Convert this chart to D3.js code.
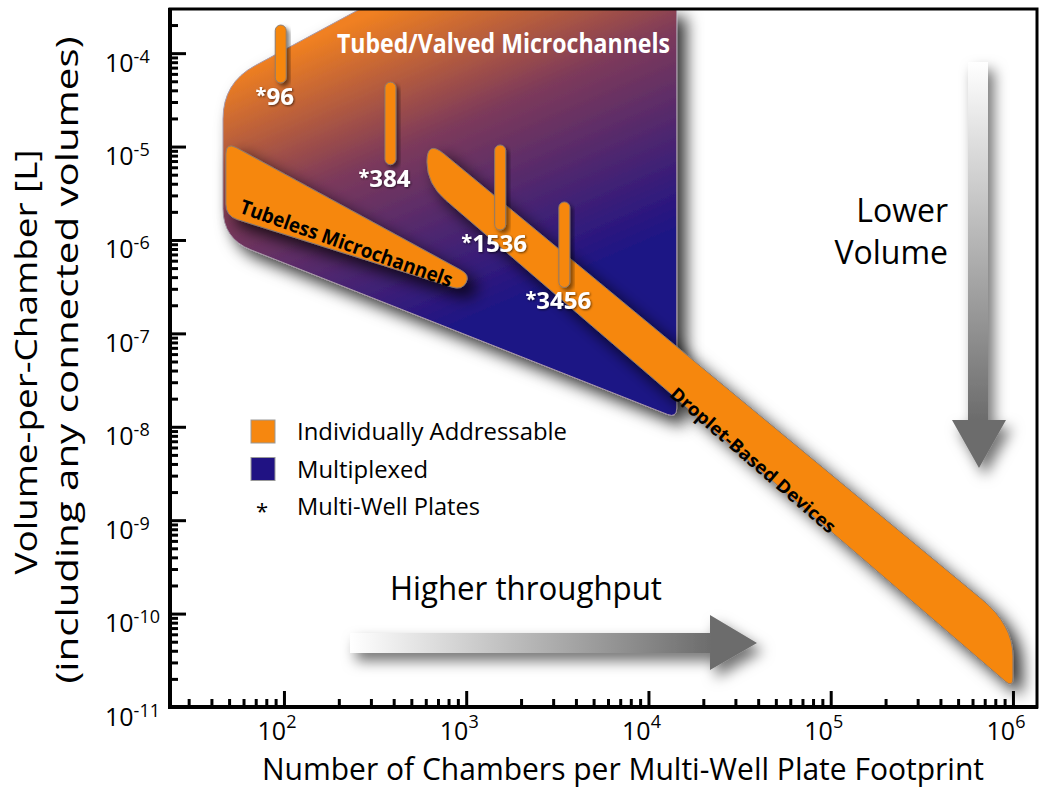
<!DOCTYPE html>
<html>
<head>
<meta charset="utf-8">
<script src="https://cdn.jsdelivr.net/npm/d3@7"></script>
<style>
  body { margin: 0; background: #fff; }
  svg { display: block; }
  text { font-family: "Open Sans", "Noto Sans", sans-serif; }
</style>
</head>
<body>
<svg width="1050" height="792"></svg>
<script>
// tick values
const xTicks = [1e2, 1e3, 1e4, 1e5, 1e6];
const yTicks = [1e-11, 1e-10, 1e-9, 1e-8, 1e-7, 1e-6, 1e-5, 1e-4];

// region outlines (chambers per footprint, litres per chamber)
const multiplexedX = [46.3, 264, 14300, 14300, 46.3];
const multiplexedY = [4.8e-5, 3.0e-4, 3.0e-4, 1.24e-8, 1.03e-6];
const tubelessX = [48, 1050, 948, 48];
const tubelessY = [1.12e-5, 4.2e-7, 2.9e-7, 1.81e-6];
const dropletX = [609, 1e6, 1e6, 609];
const dropletY = [1.18e-5, 7.55e-11, 1.6e-11, 3.98e-6];

// multi-well plates
const plateWells = [96, 384, 1536, 3456];
const plateVolMax = [2.0e-4, 4.9e-5, 1.04e-5, 2.55e-6];
const plateVolMin = [4.8e-5, 6.4e-6, 1.28e-6, 3.1e-7];

const legendLabels = ["Individually Addressable", "Multiplexed", "Multi-Well Plates"];

const svg = d3.select("svg");
const x = d3.scaleLog().domain([23.7, 1.355e6]).range([170, 1037]);
const y = d3.scaleLog().domain([1e-11, 2.97e-4]).range([707, 9]);
const ORANGE = "#f6870f";

// polygon with rounded corners (quadratic), radii per vertex
function roundedPath(pts, radii) {
  const n = pts.length;
  let d = "";
  for (let i = 0; i < n; i++) {
    const p0 = pts[(i - 1 + n) % n], p1 = pts[i], p2 = pts[(i + 1) % n];
    const v1 = [p0[0] - p1[0], p0[1] - p1[1]], v2 = [p2[0] - p1[0], p2[1] - p1[1]];
    const l1 = Math.hypot(v1[0], v1[1]), l2 = Math.hypot(v2[0], v2[1]);
    const r1 = Math.min(radii[i], l1 / 2), r2 = Math.min(radii[i], l2 / 2);
    const a = [p1[0] + v1[0] / l1 * r1, p1[1] + v1[1] / l1 * r1];
    const b = [p1[0] + v2[0] / l2 * r2, p1[1] + v2[1] / l2 * r2];
    d += (i === 0 ? "M" : "L") + a + "Q" + p1 + " " + b;
  }
  return d + "Z";
}
const toPts = (xs, ys) => xs.map((v, i) => [x(v), y(ys[i])]);

const defs = svg.append("defs");
const grad = defs.append("linearGradient").attr("id", "multiplexFill")
  .attr("gradientUnits", "userSpaceOnUse")
  .attr("x1", 240).attr("y1", 70).attr("x2", 367).attr("y2", 365);
grad.append("stop").attr("offset", 0).attr("stop-color", "#f08020");
grad.append("stop").attr("offset", 0.42).attr("stop-color", "#7d3a5a");
grad.append("stop").attr("offset", 1).attr("stop-color", "#1d1285");

const hGrad = defs.append("linearGradient").attr("id", "hArrow")
  .attr("gradientUnits", "userSpaceOnUse")
  .attr("x1", 350).attr("y1", 0).attr("x2", 712).attr("y2", 0);
hGrad.append("stop").attr("offset", 0).attr("stop-color", "#ffffff");
hGrad.append("stop").attr("offset", 1).attr("stop-color", "#6c6c6c");
const vGrad = defs.append("linearGradient").attr("id", "vArrow")
  .attr("gradientUnits", "userSpaceOnUse")
  .attr("x1", 0).attr("y1", 62).attr("x2", 0).attr("y2", 420);
vGrad.append("stop").attr("offset", 0).attr("stop-color", "#ffffff");
vGrad.append("stop").attr("offset", 1).attr("stop-color", "#6c6c6c");

function shadow(id, dx, dy, sd, op) {
  defs.append("filter").attr("id", id)
    .attr("x", "-30%").attr("y", "-30%").attr("width", "170%").attr("height", "170%")
    .append("feDropShadow").attr("dx", dx).attr("dy", dy).attr("stdDeviation", sd)
    .attr("flood-color", "#000").attr("flood-opacity", op);
}
shadow("shadow", 9, 9, 8, 0.8);
shadow("shadowArrow", 6, 8, 7, 0.55);
shadow("shadowSm", 3, 3, 2, 0.5);
shadow("textShadow", 1, 1, 1, 0.6);

defs.append("clipPath").attr("id", "plot")
  .append("rect").attr("x", 170).attr("y", 9).attr("width", 867).attr("height", 698);

const shapes = svg.append("g").attr("clip-path", "url(#plot)");

shapes.append("path")
  .attr("d", roundedPath(toPts(multiplexedX, multiplexedY), [36, 0, 0, 10, 30]))
  .attr("fill", "url(#multiplexFill)").attr("stroke", "#a898a8").attr("stroke-width", 1)
  .attr("filter", "url(#shadow)");

shapes.append("path")
  .attr("d", roundedPath(toPts(tubelessX, tubelessY), [12, 10, 10, 12]))
  .attr("fill", ORANGE).attr("stroke", "#8a7b70").attr("stroke-width", 1)
  .attr("filter", "url(#shadow)");

shapes.append("path")
  .attr("d", roundedPath(toPts(dropletX, dropletY), [22, 40, 10, 25]))
  .attr("fill", ORANGE).attr("stroke", "#8a7b70").attr("stroke-width", 1)
  .attr("filter", "url(#shadow)");

shapes.selectAll("rect.plate")
  .data(plateWells).enter()
  .append("rect").attr("class", "plate")
  .attr("x", d => x(d) - 5.5).attr("width", 11)
  .attr("y", (d, i) => y(plateVolMax[i]))
  .attr("height", (d, i) => y(plateVolMin[i]) - y(plateVolMax[i]))
  .attr("rx", 5.5)
  .attr("fill", ORANGE).attr("stroke", "#8a7b70").attr("stroke-width", 1)
  .attr("filter", "url(#shadowSm)");

const plateText = shapes.selectAll("text.plate")
  .data(plateWells).enter()
  .append("text").attr("class", "plate")
  .attr("x", d => x(d) - 6)
  .attr("y", (d, i) => y(plateVolMin[i]) + 22)
  .attr("text-anchor", "middle")
  .attr("font-size", 24).attr("font-weight", 700).attr("fill", "#fff")
  .attr("filter", "url(#textShadow)");
plateText.append("tspan").attr("font-size", 20).attr("dy", -3).text("*");
plateText.append("tspan").attr("dy", 3).text(d => d);

shapes.append("text")
  .attr("x", 337).attr("y", 53)
  .attr("font-size", 26).attr("font-weight", 700).attr("fill", "#fff")
  .attr("textLength", 333).attr("lengthAdjust", "spacingAndGlyphs")
  .text("Tubed/Valved Microchannels");

shapes.append("text")
  .attr("transform", "translate(344,250) rotate(19.5)")
  .attr("text-anchor", "middle")
  .attr("font-size", 20).attr("font-weight", 700).attr("fill", "#000")
  .attr("textLength", 224).attr("lengthAdjust", "spacingAndGlyphs")
  .text("Tubeless Microchannels");

shapes.append("text")
  .attr("transform", "translate(749,465) rotate(40.8)")
  .attr("text-anchor", "middle")
  .attr("font-size", 18).attr("font-weight", 700).attr("fill", "#000")
  .attr("textLength", 212).attr("lengthAdjust", "spacingAndGlyphs")
  .text("Droplet-Based Devices");

// arrows
svg.append("path")
  .attr("d", "M350,633L710,633L710,615L757,643L710,670L710,653L350,653Z")
  .attr("fill", "url(#hArrow)").attr("filter", "url(#shadowArrow)");
svg.append("path")
  .attr("d", "M968,62L988,62L988,420L1006,420L979,468L952,420L968,420Z")
  .attr("fill", "url(#vArrow)").attr("filter", "url(#shadowArrow)");

svg.append("text").attr("x", 390).attr("y", 600)
  .attr("font-size", 32).attr("textLength", 272).attr("lengthAdjust", "spacingAndGlyphs")
  .text("Higher throughput");
svg.append("text").attr("x", 948).attr("y", 222).attr("text-anchor", "end")
  .attr("font-size", 32).text("Lower");
svg.append("text").attr("x", 948).attr("y", 264).attr("text-anchor", "end")
  .attr("font-size", 32).text("Volume");

// legend
const legend = svg.append("g");
const legendLen = [270, 131, 183];
const legendFill = [ORANGE, "#201283"];
legendLabels.forEach((lab, i) => {
  const yy = 440 + i * 37.5;
  if (i < 2) {
    legend.append("rect").attr("x", 251).attr("y", yy - 20).attr("width", 24).attr("height", 23)
      .attr("fill", legendFill[i]).attr("stroke", "#999").attr("stroke-width", 1);
  } else {
    legend.append("text").attr("x", 262).attr("y", yy + 4).attr("text-anchor", "middle")
      .attr("font-size", 22).text("*");
  }
  legend.append("text").attr("x", 297).attr("y", yy)
    .attr("font-size", 24).attr("textLength", legendLen[i]).attr("lengthAdjust", "spacingAndGlyphs")
    .text(lab);
});

// axes
function minors(lo, hi) {
  const out = [];
  for (let e = lo; e <= hi; e++) for (let k = 2; k <= 9; k++) out.push(k * Math.pow(10, e));
  return out;
}
const xMinor = minors(1, 6).filter(v => v > x.domain()[0] && v < x.domain()[1]);
const yMinor = minors(-11, -4).filter(v => v > y.domain()[0] && v < y.domain()[1]);

const xMinorG = svg.append("g").attr("transform", "translate(0,707)")
  .call(d3.axisBottom(x).tickValues(xMinor).tickSize(-8).tickSizeOuter(0).tickFormat(""));
const xMajorG = svg.append("g").attr("transform", "translate(0,707)")
  .call(d3.axisBottom(x).tickValues(xTicks).tickSize(-16).tickSizeOuter(0));
const yMinorG = svg.append("g").attr("transform", "translate(170,0)")
  .call(d3.axisLeft(y).tickValues(yMinor).tickSize(-8).tickSizeOuter(0).tickFormat(""));
const yMajorG = svg.append("g").attr("transform", "translate(170,0)")
  .call(d3.axisLeft(y).tickValues(yTicks).tickSize(-16).tickSizeOuter(0));

[xMinorG, xMajorG, yMinorG, yMajorG].forEach(g => {
  g.selectAll(".tick line").attr("stroke", "#000").attr("stroke-width", 3);
  g.select(".domain").remove();
});
xMinorG.selectAll(".tick text").remove();
yMinorG.selectAll(".tick text").remove();

xMajorG.selectAll(".tick text").each(function(d) {
  const t = d3.select(this);
  t.text(null).attr("x", 12).attr("y", 33).attr("dy", null).attr("text-anchor", "end")
    .attr("fill", "#000").attr("font-size", 25);
  t.append("tspan").text("10");
  t.append("tspan").attr("dy", -12).attr("font-size", 18).text(Math.round(Math.log10(d)));
});

yMajorG.selectAll(".tick text").each(function(d) {
  const t = d3.select(this);
  t.text(null).attr("x", -65).attr("y", 18).attr("dy", null).attr("text-anchor", "start")
    .attr("fill", "#000").attr("font-size", 25);
  t.append("tspan").text("10");
  t.append("tspan").attr("dy", -9).attr("font-size", 18).text(Math.round(Math.log10(d)));
});

// frame
svg.append("rect").attr("x", 170).attr("y", 9).attr("width", 867).attr("height", 698)
  .attr("fill", "none").attr("stroke", "#000").attr("stroke-width", 3);
svg.append("line").attr("x1", 170).attr("x2", 170).attr("y1", 8).attr("y2", 709)
  .attr("stroke", "#000").attr("stroke-width", 4);
svg.append("line").attr("x1", 168).attr("x2", 1038).attr("y1", 707).attr("y2", 707)
  .attr("stroke", "#000").attr("stroke-width", 4);

// axis titles
svg.append("text").attr("x", 262).attr("y", 780)
  .attr("font-size", 31).attr("textLength", 722).attr("lengthAdjust", "spacingAndGlyphs")
  .text("Number of Chambers per Multi-Well Plate Footprint");

svg.append("text").attr("transform", "translate(37,362) rotate(-90)")
  .attr("text-anchor", "middle").attr("font-size", 31)
  .attr("textLength", 425).attr("lengthAdjust", "spacingAndGlyphs")
  .text("Volume-per-Chamber [L]");
svg.append("text").attr("transform", "translate(78,360) rotate(-90)")
  .attr("text-anchor", "middle").attr("font-size", 31)
  .attr("textLength", 647).attr("lengthAdjust", "spacingAndGlyphs")
  .text("(including any connected volumes)");
</script>
</body>
</html>
